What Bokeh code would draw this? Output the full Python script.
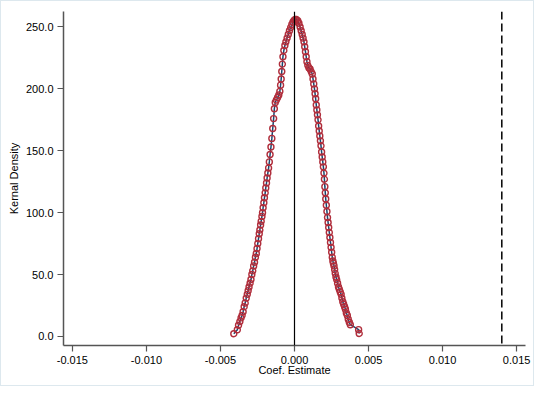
from bokeh.plotting import figure
from bokeh.models import Span, NumeralTickFormatter, FixedTicker, Range1d
from bokeh.embed import file_html
from bokeh.resources import INLINE

# Placebo coefficient estimates (x) and their kernel density (y)
coef = [-0.00410, -0.00386, -0.00378, -0.00369, -0.00361, -0.00354, -0.00347, -0.00340,
        -0.00333, -0.00326, -0.00319, -0.00313, -0.00307, -0.00300, -0.00294, -0.00288,
        -0.00282, -0.00276, -0.00270, -0.00264, -0.00258, -0.00253, -0.00248, -0.00243,
        -0.00238, -0.00234, -0.00229, -0.00225, -0.00220, -0.00216, -0.00212, -0.00207,
        -0.00203, -0.00198, -0.00194, -0.00189, -0.00185, -0.00180, -0.00175, -0.00170,
        -0.00165, -0.00159, -0.00153, -0.00147, -0.00141, -0.00136, -0.00130, -0.00122,
        -0.00114, -0.00106, -0.00099, -0.00094, -0.00090, -0.00086, -0.00082, -0.00078,
        -0.00072, -0.00065, -0.00058, -0.00050, -0.00042, -0.00034, -0.00026, -0.00018,
        -0.00010, -0.00002, 0.00006, 0.00014,
        0.00022, 0.00030, 0.00038, 0.00045, 0.00052, 0.00058, 0.00064, 0.00069,
        0.00074, 0.00079, 0.00084, 0.00090, 0.00097, 0.00105, 0.00113, 0.00120,
        0.00125, 0.00130, 0.00135, 0.00139, 0.00143, 0.00147, 0.00151, 0.00155,
        0.00159, 0.00163, 0.00167, 0.00171, 0.00175, 0.00179, 0.00183, 0.00187,
        0.00191, 0.00195, 0.00199, 0.00202, 0.00205, 0.00208, 0.00211, 0.00215,
        0.00219, 0.00223, 0.00227, 0.00231, 0.00235, 0.00239, 0.00243, 0.00247,
        0.00251, 0.00255, 0.00259, 0.00263, 0.00267, 0.00271, 0.00275, 0.00280,
        0.00285, 0.00291, 0.00297, 0.00303, 0.00309, 0.00315, 0.00320, 0.00326,
        0.00332, 0.00338, 0.00344, 0.00350, 0.00357, 0.00363, 0.00370, 0.00377,
        0.00433, 0.00437]
density = [2.2, 5.4, 9, 12, 15, 17, 20, 24,
           27, 31, 34, 37, 40, 43, 46, 50,
           53, 57, 60, 64, 67, 71, 75, 79,
           83, 86, 90, 93, 97, 100, 104, 108,
           112, 116, 120, 124, 128, 132, 136, 141,
           147, 153, 160, 168, 176, 184, 189, 191,
           193, 195, 198, 203, 208, 214, 220, 226,
           231, 235, 238, 241, 244, 247, 249.5, 252,
           254, 255.5, 256, 256,
           255, 253, 250, 247, 244, 241, 238, 234,
           230, 226, 222, 219, 217, 216, 214, 212,
           208, 204, 200, 196, 192, 187, 183, 179,
           175, 170, 166, 162, 158, 154, 149, 145,
           141, 137, 132, 127, 121, 116, 111, 106,
           101, 96, 92, 88, 84, 80, 76, 72,
           68, 64, 61, 59, 57, 54, 51, 48,
           46, 43, 40, 38, 36, 34, 31, 28,
           26, 24, 22, 19, 17, 14, 11.5, 9.5,
           5.5, 2.4]

x_ticks = [-0.015, -0.010, -0.005, 0.000, 0.005, 0.010, 0.015]
y_ticks = [0, 50, 100, 150, 200, 250]
zero_line = 0.0
true_estimate = 0.014

FONT = "Liberation Sans"

p = figure(width=534, height=386, output_backend="svg", toolbar_location=None,
           x_range=Range1d(-0.0156, 0.0156), y_range=Range1d(-7.3, 262.5),
           min_border_left=62, min_border_right=10, min_border_top=10, min_border_bottom=42)
p.styles = {"border": "1px solid #dde8ee"}
p.outline_line_color = None
p.background_fill_color = "white"
p.border_fill_color = "white"
p.grid.visible = False

p.line(coef, density, line_color="#1a476f", line_width=1.5)
p.scatter(coef, density, marker="circle", size=6, fill_color=None,
          line_color="#b02e3c", line_width=1.4)

p.add_layout(Span(location=zero_line, dimension="height", line_color="black", line_width=1.2))
p.add_layout(Span(location=true_estimate, dimension="height", line_color="black",
                  line_width=1.5, line_dash="8 4"))

for ax in (p.xaxis[0], p.yaxis[0]):
    ax.axis_line_color = "#555555"
    ax.axis_line_width = 1.5
    ax.major_tick_line_color = "#555555"
    ax.major_tick_line_width = 1.2
    ax.major_tick_out = 6
    ax.major_tick_in = 0
    ax.minor_tick_out = 0
    ax.minor_tick_in = 0
    ax.major_label_text_font = FONT
    ax.major_label_text_font_size = "11px"
    ax.major_label_text_color = "black"
    ax.axis_label_text_font = FONT
    ax.axis_label_text_font_size = "11px"
    ax.axis_label_text_font_style = "normal"
    ax.axis_label_text_color = "black"

p.xaxis.ticker = FixedTicker(ticks=x_ticks)
p.xaxis.formatter = NumeralTickFormatter(format="0.000")
p.xaxis.axis_label = "Coef. Estimate"
p.xaxis.axis_label_standoff = -3
p.xaxis.major_label_standoff = 4

p.yaxis.ticker = FixedTicker(ticks=y_ticks)
p.yaxis.formatter = NumeralTickFormatter(format="0.0")
p.yaxis.axis_label = "Kernal Density"
p.yaxis.axis_label_standoff = 3
p.yaxis.major_label_standoff = 4

open("out.html", "w").write(file_html(p, INLINE))
